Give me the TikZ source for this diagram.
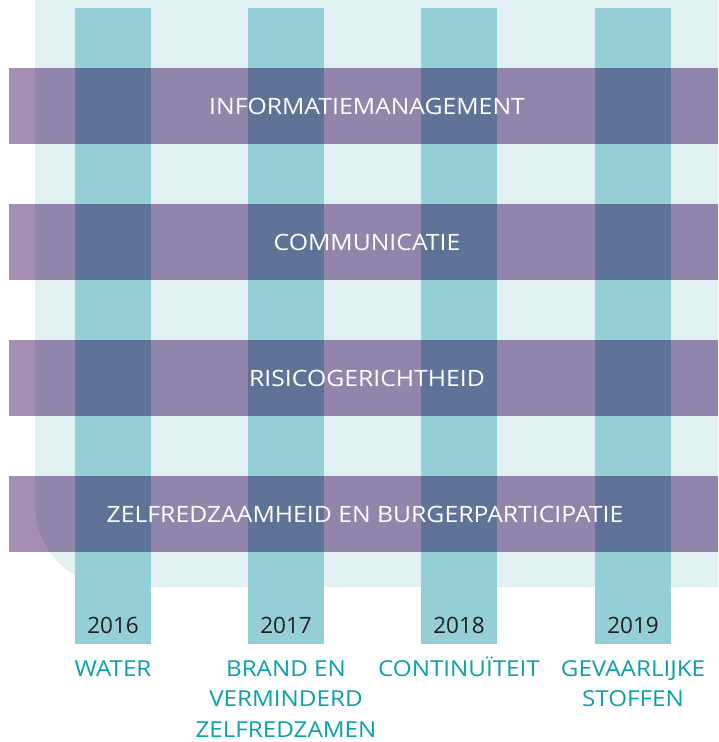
\documentclass[tikz,border=0pt]{standalone}
\usepackage{fontspec}
\setmainfont{Open Sans}
\newfontfamily\breedfont[FakeStretch=1.1]{Open Sans}
\usetikzlibrary{positioning}
\definecolor{vlakgrond}{HTML}{E1F0F1}
\definecolor{kolomblauw}{HTML}{94CFD7}
\definecolor{themapaars}{HTML}{A58EB6}
\definecolor{jaartekst}{HTML}{231F20}
\definecolor{onderwerpblauw}{HTML}{0AA0A8}

\begin{document}
\begin{tikzpicture}[x=1pt, y=-1pt,
	kolom/.style={fill=kolomblauw},
	thema/.style={fill=themapaars},
	thematekst/.style={text=white, inner sep=0pt, font=\breedfont\fontsize{22.5}{22.5}\selectfont},
	jaar/.style={text=jaartekst, inner sep=0pt, font=\fontsize{22.5}{22.5}\selectfont},
	onderwerp/.style={text=onderwerpblauw, inner sep=0pt, align=center, font=\breedfont\fontsize{22}{30.5}\selectfont}]
	\useasboundingbox (0,0) rectangle (718,742);
	% achtergrondvlak
	\fill[vlakgrond] (718,0) -- (35,0) [rounded corners=82pt] -- (35,587) [sharp corners] -- (718,587) -- cycle;
	% jaarkolommen
	\foreach \x in {75,248,421,595}
		\fill[kolom] (\x,8) rectangle ++(76,636);
	% themabalken
	\begin{scope}[blend mode=multiply]
		\foreach \y in {68,204,340,476}
			\fill[thema] (9,\y) rectangle ++(709,76);
	\end{scope}
	\node[thematekst] (info) at (367,106) {INFORMATIEMANAGEMENT};
	\node[thematekst] (comm) at (367,242) {COMMUNICATIE};
	\node[thematekst] (risico) at (367,378) {RISICOGERICHTHEID};
	\node[thematekst] (zelf) at (365,514) {ZELFREDZAAMHEID EN BURGERPARTICIPATIE};
	% jaren
	\node[jaar] (j2016) at (113,625) {2016};
	\node[jaar] (j2017) at (286,625) {2017};
	\node[jaar] (j2018) at (459,625) {2018};
	\node[jaar] (j2019) at (633,625) {2019};
	% onderwerpen
	\node[onderwerp, below=43pt of j2016.base, anchor=base] (water) {WATER};
	\node[onderwerp, below=27pt of j2017.base, anchor=north] (brand) {BRAND EN\\VERMINDERD\\ZELFREDZAMEN};
	\node[onderwerp, below=43pt of j2018.base, anchor=base] (cont) {CONTINUÏTEIT};
	\node[onderwerp, below=27pt of j2019.base, anchor=north] (gevaar) {GEVAARLIJKE\\STOFFEN};
\end{tikzpicture}
\end{document}
